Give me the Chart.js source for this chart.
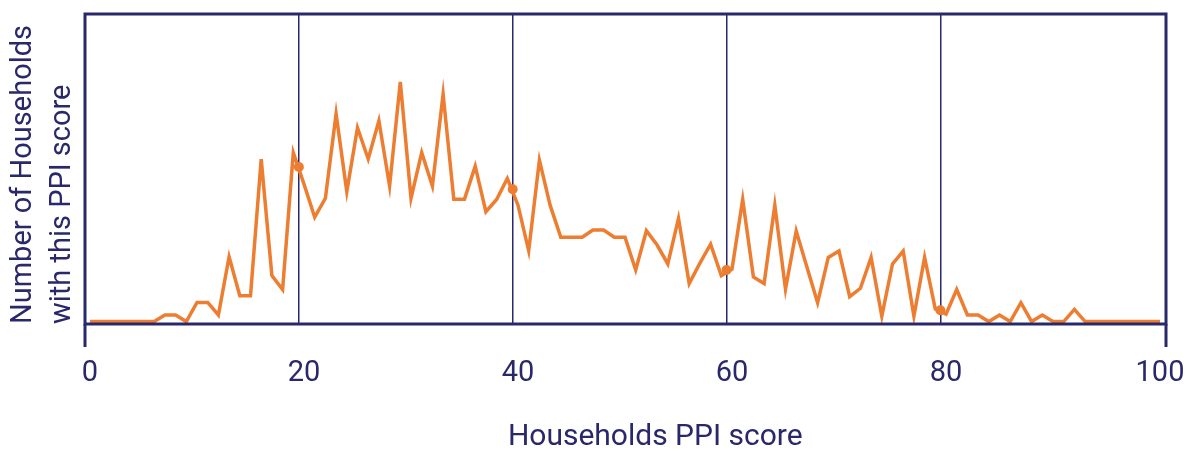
<!DOCTYPE html>
<html>
<head>
<meta charset="utf-8">
<script src="https://cdn.jsdelivr.net/npm/chart.js@4"></script>
<style>
html, body { margin: 0; padding: 0; background: #fff; }
</style>
</head>
<body>
<canvas id="myChart" width="1186" height="451"></canvas>
<script>
// PPI score of the household (x) and number of households with that score (y)
var scores = [0, 1, 2, 3, 4, 5, 6, 7, 8, 9, 10, 11, 12, 13, 14, 15, 16, 17, 18, 19,
    20, 21, 22, 23, 24, 25, 26, 27, 28, 29, 30, 31, 32, 33, 34, 35, 36, 37, 38, 39,
    40, 41, 42, 43, 44, 45, 46, 47, 48, 49, 50, 51, 52, 53, 54, 55, 56, 57, 58, 59,
    60, 61, 62, 63, 64, 65, 66, 67, 68, 69, 70, 71, 72, 73, 74, 75, 76, 77, 78, 79,
    80, 81, 82, 83, 84, 85, 86, 87, 88, 89, 90, 91, 92, 93, 94, 95, 96, 97, 98, 99, 100];
var households = [0, 0, 0, 0, 0, 0, 0, 2.2, 2.2, 0, 6.4, 6.4, 2.2, 21.6, 8.6, 8.6, 54.1, 15.3, 10.7, 56.3,
    45.8, 34.8, 41.1, 69.2, 43.3, 64.6, 54.2, 66.9, 45.2, 79.9, 41.1, 56.3, 45.2, 75.8, 40.8, 40.8, 51.8, 36.6, 40.7, 47.7,
    38.8, 23.6, 53.8, 38.8, 28.1, 28.1, 28.1, 30.5, 30.5, 28.1, 28.1, 17.2, 30.3, 25.5, 19.2, 34.4, 12.7, 19.5, 25.8, 15.3,
    17.5, 40.7, 14.9, 12.7, 38.8, 10.8, 30.2, 18.2, 6.3, 21.4, 23.5, 8.3, 11.1, 21.4, 1.8, 19.2, 23.5, 1.8, 21.4, 4.2,
    2.5, 10.7, 2.2, 2.2, 0, 2.2, 0, 6.3, 0, 2.2, 0, 0, 4.1, 0, 0, 0, 0, 0, 0, 0, 0];
var tickLabels = [0, 20, 40, 60, 80, 100];
// reference lines and the dots where they cross the curve
var gridScores = [20, 40, 60, 80];
var gridHouseholds = [51.5, 44.1, 17.2, 3.8];

var navy = '#29286a';
var orange = '#ed7d31';

var frame = {
    id: 'frame',
    afterDraw: function (chart) {
        var a = chart.chartArea, c = chart.ctx;
        c.save();
        c.strokeStyle = navy;
        c.lineWidth = 3;
        c.strokeRect(a.left, a.top, a.right - a.left, a.bottom - a.top);
        c.beginPath();
        c.moveTo(a.left, a.bottom); c.lineTo(a.left, a.bottom + 23);
        c.moveTo(a.right, a.bottom); c.lineTo(a.right, a.bottom + 23);
        c.stroke();
        c.restore();
    }
};

var ctx = document.getElementById('myChart').getContext('2d');
var myChart = new Chart(ctx, {
    type: 'line',
    data: {
        datasets: [
            {
                data: scores.map(function (s, i) { return { x: s, y: households[i] }; }),
                borderColor: orange,
                borderWidth: 3.5,
                pointRadius: 0,
                tension: 0,
                xAxisID: 'x'
            },
            {
                data: gridScores.map(function (s, i) { return { x: s, y: gridHouseholds[i] }; }),
                showLine: false,
                pointRadius: 5,
                pointBackgroundColor: orange,
                pointBorderWidth: 0,
                xAxisID: 'x2'
            }
        ]
    },
    plugins: [frame],
    options: {
        responsive: false,
        animation: false,
        layout: { padding: { left: 0, right: 20, top: 14, bottom: 0 } },
        plugins: { legend: { display: false }, tooltip: { enabled: false } },
        scales: {
            x: {
                type: 'linear', position: 'bottom', min: -0.467, max: 100.56,
                afterBuildTicks: function (axis) { axis.ticks = tickLabels.map(function (v) { return { value: v }; }); },
                afterFit: function (axis) { axis.height = 127; axis.paddingLeft = 0; axis.paddingRight = 0; },
                grid: { display: false, drawTicks: false },
                border: { display: false },
                ticks: { padding: 32, color: navy, font: { family: 'Roboto', size: 29 }, maxRotation: 0, autoSkip: false },
                title: { display: true, text: '        Households PPI score', color: navy,
                    font: { family: 'Roboto', size: 30 }, padding: { top: 0, bottom: -4 } }
            },
            x2: {
                type: 'linear', position: 'top', min: 0, max: 101.1,
                afterBuildTicks: function (axis) { axis.ticks = gridScores.map(function (v) { return { value: v }; }); },
                afterFit: function (axis) { axis.height = 0; axis.paddingLeft = 0; axis.paddingRight = 0; },
                ticks: { display: false },
                grid: { color: navy, lineWidth: 1.5, drawTicks: false },
                border: { display: false }
            },
            y: {
                min: -0.8, max: 102.5,
                afterFit: function (axis) { axis.width = 85; axis.paddingTop = 0; axis.paddingBottom = 0; },
                ticks: { display: false },
                grid: { display: false, drawTicks: false },
                border: { display: false },
                title: { display: true, align: 'start', text: ['Number of Households', 'with this PPI score'], color: navy,
                    font: { family: 'Roboto', size: 29, lineHeight: 1.35 }, padding: { top: 4, bottom: 0 } }
            }
        }
    }
});
</script>
</body>
</html>
